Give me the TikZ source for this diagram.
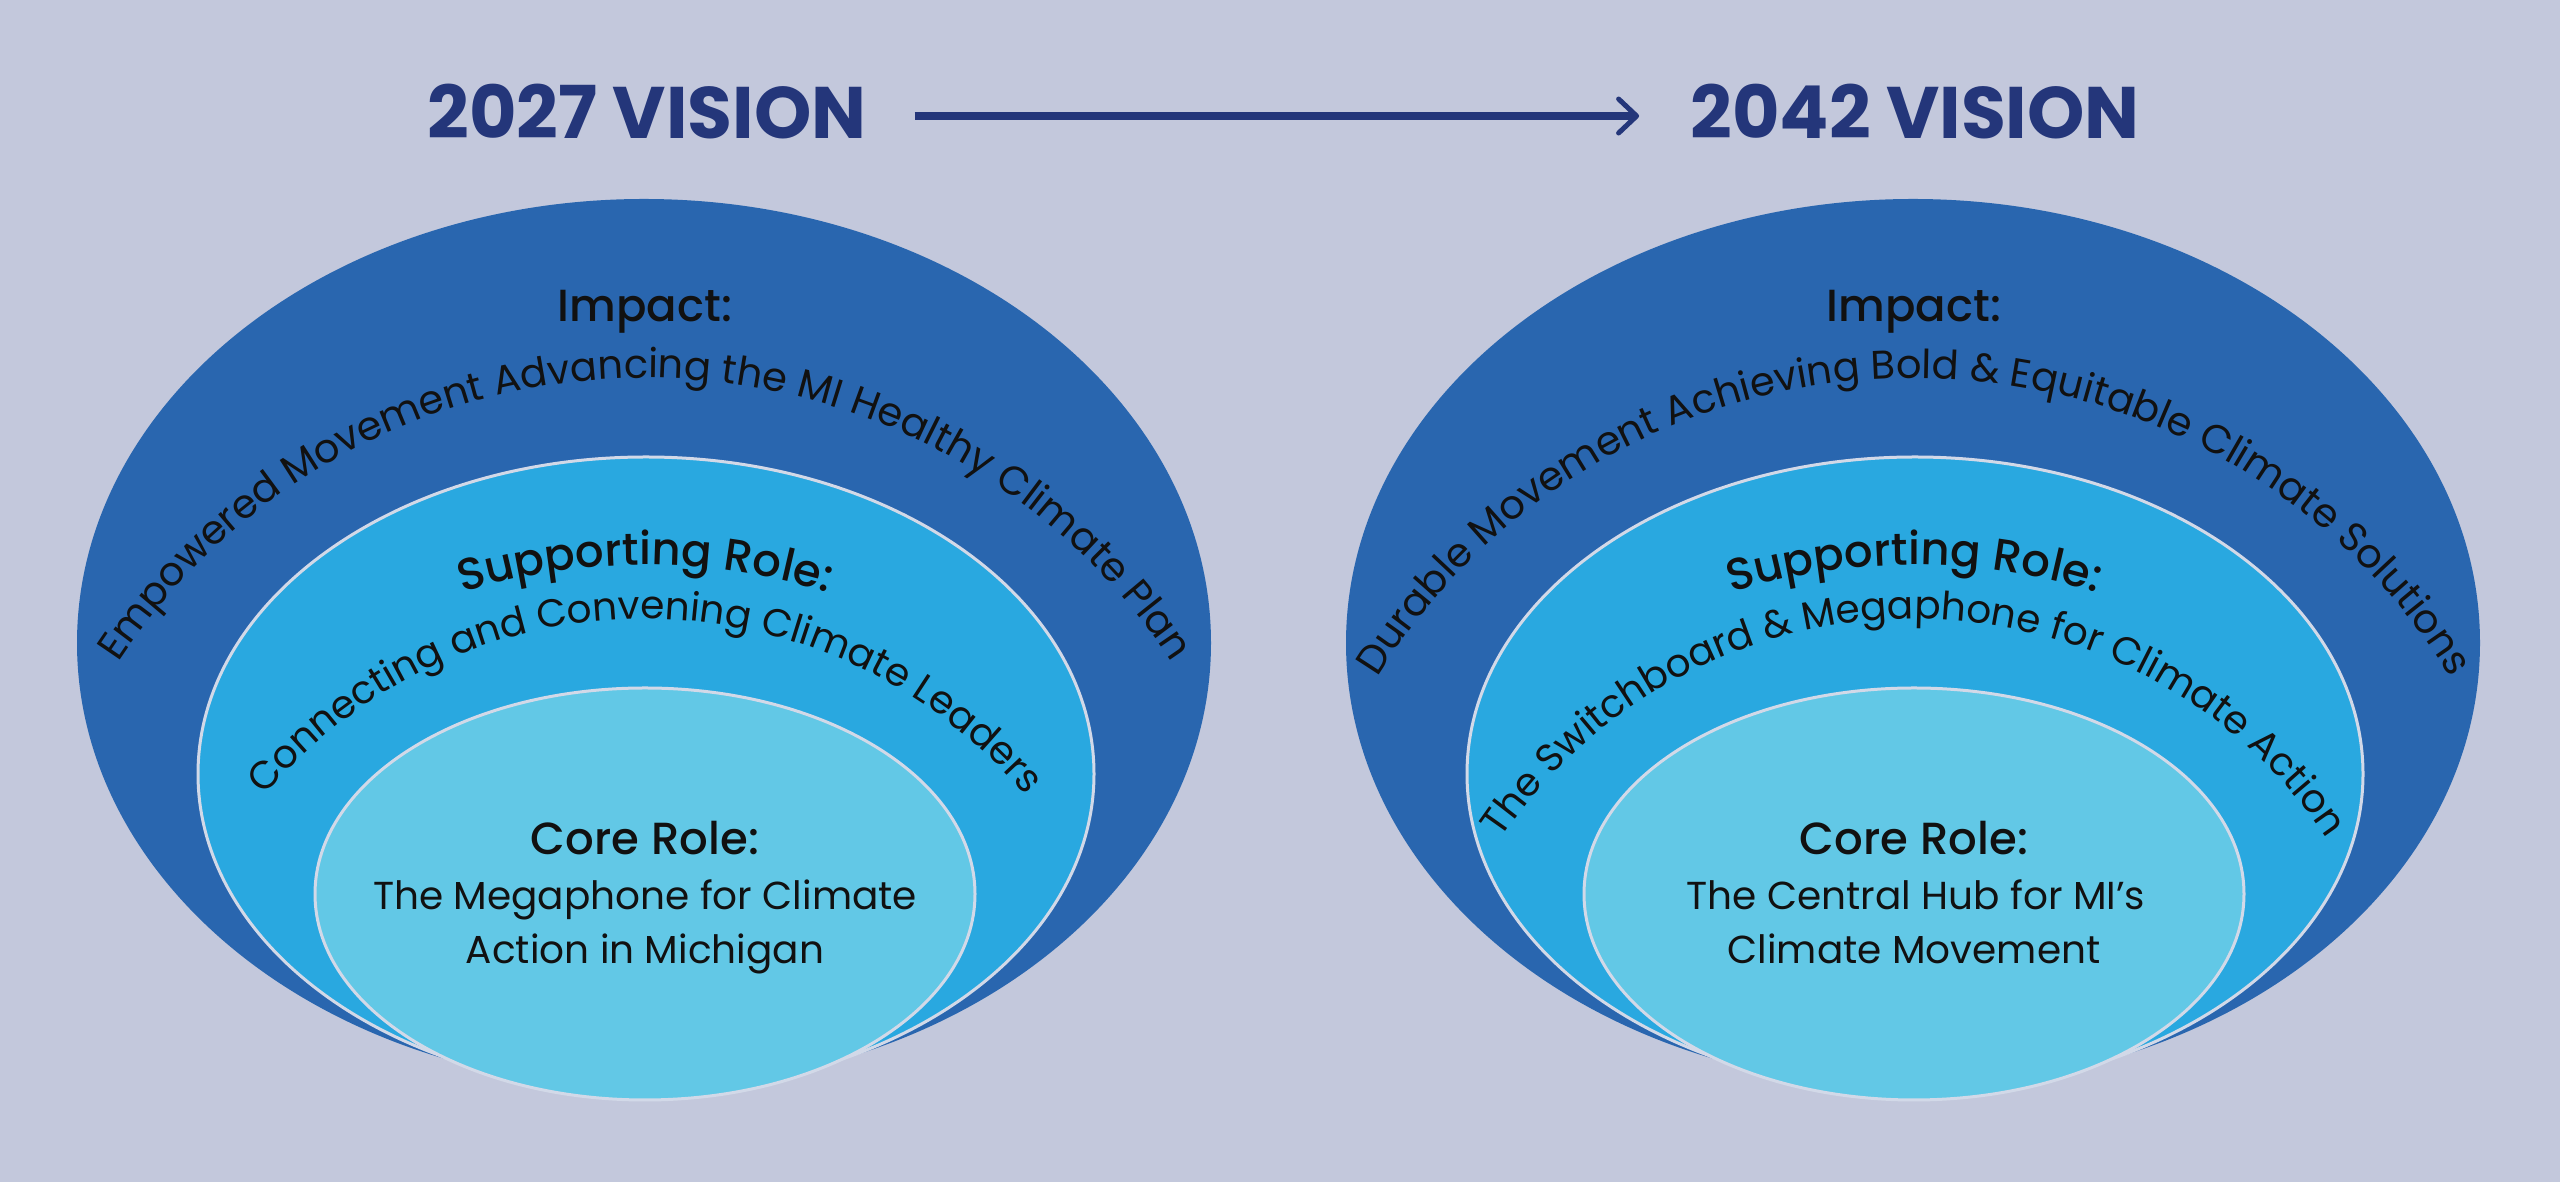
\documentclass[tikz,border=0pt]{standalone}
\usepackage{fontspec}
\setmainfont{Poppins}
\newfontfamily\popmed{Poppins Medium}
\usetikzlibrary{decorations.text,arrows.meta,calc}
\definecolor{bg}{HTML}{C3C8DC}
\definecolor{outerblue}{HTML}{2966AF}
\definecolor{midblue}{HTML}{29A8E0}
\definecolor{coreblue}{HTML}{62C8E6}
\definecolor{navy}{HTML}{24367A}
\definecolor{rim}{HTML}{D2D9E8}
\definecolor{ink}{HTML}{111111}
\newcommand\mybody{\fontsize{39}{47}\selectfont}
\newcommand\myimpact{\fontsize{40}{48}\selectfont}
\newcommand\myhead{\popmed\fontsize{45}{54}\selectfont}
\begin{document}
\begin{tikzpicture}[x=1pt,y=1pt,
  titletext/.style={font=\bfseries\fontsize{73}{80}\selectfont, text=navy, inner sep=0pt, anchor=base},
  headtext/.style={font=\myhead, text=ink, inner sep=0pt, anchor=base},
  bodytext/.style={font=\mybody, text=ink, inner sep=0pt, anchor=base},
  outerell/.style={fill=outerblue},
  midell/.style={fill=midblue, draw=rim, line width=3pt},
  coreell/.style={fill=coreblue, draw=rim, line width=3pt},
  arrowline/.style={draw=navy, line width=8pt, -{Straight Barb[length=18pt,width=34pt,line width=5pt,round]}},
  curvebody/.style={decorate, decoration={text along path, text align=center, text color=ink, text={|\mybody|#1}}},
  curveimpact/.style={decorate, decoration={text along path, text align=center, text color=ink, text={|\myimpact|#1}}},
  curvehead/.style={decorate, decoration={text along path, text align=center, text color=ink, text={|\myhead|#1}}}
]
\useasboundingbox (0,0) rectangle (2560,1182);
\fill[bg] (0,0) rectangle (2560,1182);

% titles and arrow
\node[titletext] (t1) at (647,1043) {2027 VISION};
\node[titletext] (t2) at (1915,1043) {2042 VISION};
\draw[arrowline] ($(t1.east)+(48,-4)$) -- ($(t2.west)+(-51,-4)$);

% ---------- left set ----------
\path[outerell] (644,539) ellipse [x radius=567, y radius=444];
\path[midell] (646,408) ellipse [x radius=448, y radius=317];
\path[coreell] (645,288) ellipse [x radius=330, y radius=206];

\node[headtext] (imp1) at (645,860) {Impact:};
\path[curveimpact={Empowered Movement Advancing the MI Healthy Climate Plan}]
  (645,174) ++(178:630) arc[start angle=178, end angle=2, radius=630];
\path[curvehead={Supporting Role:}]
  (645,-3) ++(120:620) arc[start angle=120, end angle=60, radius=620];
\path[curvebody={Connecting and Convening Climate Leaders}]
  (645,65) ++(175:498) arc[start angle=175, end angle=5, radius=498];
\node[headtext] (core1) at (645,327) {Core Role:};
\node[bodytext] (core1a) at (645,272) {The Megaphone for Climate};
\node[bodytext] (core1b) at (645,218) {Action in Michigan};

% ---------- right set ----------
\path[outerell] (1913,539) ellipse [x radius=567, y radius=444];
\path[midell] (1915,408) ellipse [x radius=448, y radius=317];
\path[coreell] (1914,288) ellipse [x radius=330, y radius=206];

\node[headtext] (imp2) at (1914,860) {Impact:};
\path[curveimpact={Durable Movement Achieving Bold {\&} Equitable Climate Solutions}]
  (1914,174) ++(178:630) arc[start angle=178, end angle=2, radius=630];
\path[curvehead={Supporting Role:}]
  (1914,-3) ++(120:620) arc[start angle=120, end angle=60, radius=620];
\path[curvebody={The Switchboard {\&} Megaphone for Climate Action}]
  (1914,65) ++(175:498) arc[start angle=175, end angle=5, radius=498];
\node[headtext] (core2) at (1914,327) {Core Role:};
\node[bodytext] (core2a) at (1916,272) {The Central Hub for MI\char"27 s};
\node[bodytext] (core2b) at (1914,218) {Climate Movement};
\end{tikzpicture}
\end{document}
